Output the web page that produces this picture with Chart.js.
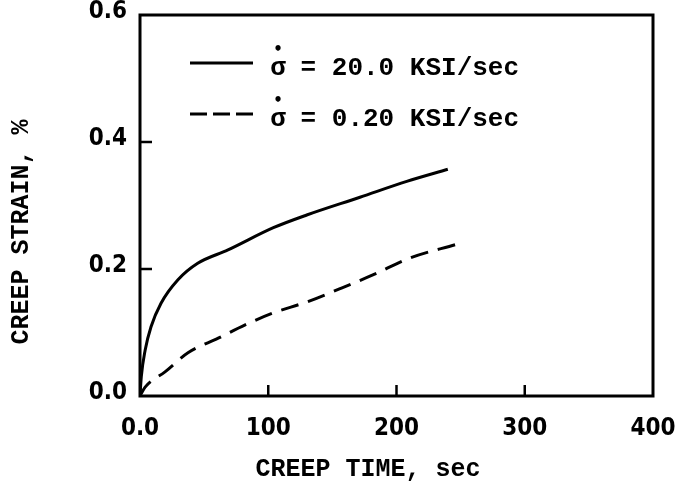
<!DOCTYPE html>
<html>
<head>
<meta charset="utf-8">
<script src="https://cdn.jsdelivr.net/npm/chart.js@4"></script>
<style>
  html, body { margin: 0; padding: 0; background: #fff; }
  #wrap { width: 684px; height: 495px; }
</style>
</head>
<body>
<div id="wrap"><canvas id="creep"></canvas></div>
<script>
// values
const fastTime = [0, 1, 4, 8.6, 16.4, 29.6, 45, 68.6, 104, 130, 171.5, 208, 240];
const fastStrain = [0, 0.03, 0.072, 0.109, 0.146, 0.183, 0.209, 0.23, 0.265, 0.285, 0.313, 0.338, 0.357];
const slowTime = [0, 4, 19.5, 37.4, 61, 82, 104, 130, 156, 182, 210, 247];
const slowStrain = [0, 0.014, 0.038, 0.068, 0.091, 0.112, 0.131, 0.148, 0.169, 0.191, 0.217, 0.239];
const seriesLabels = ["σ̇ = 20.0 KSI/sec", "σ̇ = 0.20 KSI/sec"];
const xTicks = [0, 100, 200, 300, 400];
const yTicks = [0, 0.2, 0.4, 0.6];
const xTitle = "CREEP TIME, sec";
const yTitle = "CREEP STRAIN, %";

const toPoints = (xs, ys) => xs.map((x, i) => ({ x, y: ys[i] }));

const tickFont = { family: "'Liberation Sans Narrow', 'DejaVu Sans Condensed', 'Liberation Sans', sans-serif", size: 24, weight: "bold" };
const textFont = "bold 25px 'Liberation Mono', 'DejaVu Sans Mono', monospace";
const legendFont = "bold 26px 'Liberation Mono', 'DejaVu Sans Mono', monospace";

// frame, inward ticks, titles and the in-plot legend
const decorations = {
  id: "decorations",
  afterDatasetsDraw(chart) {
    const { ctx, chartArea: a, scales } = chart;
    ctx.save();
    ctx.strokeStyle = "#000";
    ctx.lineWidth = 3;
    ctx.strokeRect(a.left, a.top, a.right - a.left, a.bottom - a.top);

    ctx.lineWidth = 2.5;
    [100, 200, 300].forEach((v) => {
      const px = scales.x.getPixelForValue(v);
      ctx.beginPath();
      ctx.moveTo(px, a.bottom);
      ctx.lineTo(px, a.bottom - 11);
      ctx.stroke();
    });
    [0.2, 0.4].forEach((v) => {
      const py = scales.y.getPixelForValue(v);
      ctx.beginPath();
      ctx.moveTo(a.left, py);
      ctx.lineTo(a.left + 12, py);
      ctx.stroke();
    });

    ctx.fillStyle = "#000";
    ctx.font = textFont;
    ctx.textAlign = "center";
    ctx.textBaseline = "middle";
    ctx.fillText(xTitle, 368, 470);
    ctx.save();
    ctx.translate(22, 232);
    ctx.rotate(-Math.PI / 2);
    ctx.fillText(yTitle, 0, 0);
    ctx.restore();

    // legend rows: sample line, then sigma with its rate dot, then the rest
    const rows = [63, 114];
    chart.data.datasets.forEach((ds, i) => {
      const y = rows[i];
      ctx.lineWidth = 3;
      ctx.setLineDash(i === 0 ? [] : [17, 6]);
      ctx.beginPath();
      ctx.moveTo(190, y);
      ctx.lineTo(253, y);
      ctx.stroke();
      ctx.setLineDash([]);
      const rest = ds.label.replace("σ̇", "");
      ctx.font = legendFont;
      ctx.textBaseline = "alphabetic";
      ctx.textAlign = "center";
      ctx.fillText("σ", 278, y + 12);
      ctx.font = "bold 15px 'DejaVu Sans', sans-serif";
      ctx.textBaseline = "middle";
      ctx.fillText("•", 278, y - 13);
      ctx.font = legendFont;
      ctx.textBaseline = "alphabetic";
      ctx.textAlign = "left";
      ctx.fillText(rest, 285, y + 12);
    });
    ctx.restore();
  },
};

new Chart(document.getElementById("creep"), {
  type: "line",
  data: {
    datasets: [
      {
        label: seriesLabels[0],
        data: toPoints(fastTime, fastStrain),
        borderColor: "#000",
        borderWidth: 3,
        pointRadius: 0,
        cubicInterpolationMode: "monotone",
      },
      {
        label: seriesLabels[1],
        data: toPoints(slowTime, slowStrain),
        borderColor: "#000",
        borderWidth: 3,
        borderDash: [18, 10],
        pointRadius: 0,
        cubicInterpolationMode: "monotone",
      },
    ],
  },
  options: {
    responsive: true,
    maintainAspectRatio: false,
    animation: false,
    layout: { padding: { top: 15, right: 31, left: 0, bottom: 0 } },
    plugins: { legend: { display: false }, tooltip: { enabled: false } },
    scales: {
      x: {
        type: "linear",
        min: 0,
        max: 400,
        afterFit: (s) => { s.height = 99; s.paddingLeft = 0; s.paddingRight = 0; },
        afterBuildTicks: (s) => { s.ticks = xTicks.map((v) => ({ value: v })); },
        grid: { display: false, drawTicks: false },
        border: { display: false },
        ticks: {
          color: "#000",
          font: tickFont,
          padding: 18,
          maxRotation: 0,
          callback: (v) => (v === 0 ? "0.0" : String(v)),
        },
      },
      y: {
        type: "linear",
        min: 0,
        max: 0.6,
        afterFit: (s) => { s.width = 140; s.paddingTop = 0; s.paddingBottom = 0; },
        afterBuildTicks: (s) => { s.ticks = yTicks.map((v) => ({ value: v })); },
        grid: { display: false, drawTicks: false },
        border: { display: false },
        ticks: {
          color: "#000",
          font: tickFont,
          padding: 13,
          labelOffset: -3,
          callback: (v) => Number(v).toFixed(1),
        },
      },
    },
  },
  plugins: [decorations],
});
</script>
</body>
</html>
